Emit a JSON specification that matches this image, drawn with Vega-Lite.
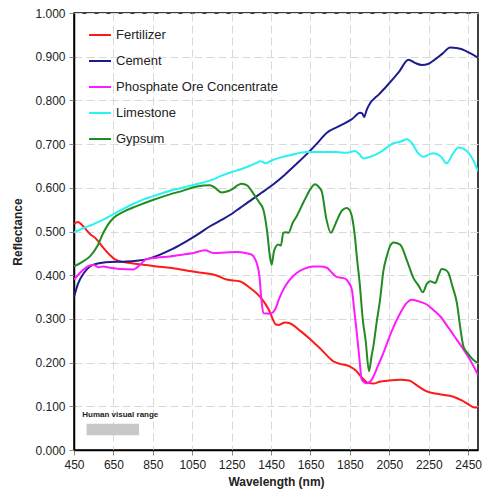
{
  "$schema": "https://vega.github.io/schema/vega-lite/v6.json",
  "width": 404,
  "height": 437,
  "autosize": {"type": "none"},
  "padding": {"left": 74, "top": 13, "right": 4, "bottom": 48},
  "background": "white",
  "config": {
    "font": "Liberation Sans",
    "view": {"stroke": "black", "strokeWidth": 1.5},
    "axis": {
      "labelFont": "Liberation Sans",
      "labelFontSize": 12,
      "labelColor": "#222222",
      "titleFont": "Liberation Sans",
      "titleFontSize": 12,
      "titleFontWeight": "bold",
      "titleColor": "#222222",
      "domainColor": "black",
      "domainWidth": 1.5,
      "tickColor": "#888888",
      "tickSize": 5,
      "gridColor": "#d9d9d9",
      "gridDash": [8, 4],
      "gridWidth": 1
    }
  },
  "layer": [
    {
      "data": {
        "values": [
          {"m":"Fertilizer","wl":450,"r":0.518},{"m":"Fertilizer","wl":470,"r":0.522},{"m":"Fertilizer","wl":500,"r":0.51},{"m":"Fertilizer","wl":530,"r":0.495},{"m":"Fertilizer","wl":565,"r":0.482},{"m":"Fertilizer","wl":600,"r":0.462},{"m":"Fertilizer","wl":630,"r":0.447},{"m":"Fertilizer","wl":658,"r":0.436},{"m":"Fertilizer","wl":700,"r":0.43},{"m":"Fertilizer","wl":750,"r":0.427},{"m":"Fertilizer","wl":802,"r":0.424},{"m":"Fertilizer","wl":870,"r":0.42},{"m":"Fertilizer","wl":937,"r":0.417},{"m":"Fertilizer","wl":1020,"r":0.411},{"m":"Fertilizer","wl":1106,"r":0.405},{"m":"Fertilizer","wl":1170,"r":0.4},{"m":"Fertilizer","wl":1225,"r":0.39},{"m":"Fertilizer","wl":1290,"r":0.386},{"m":"Fertilizer","wl":1343,"r":0.371},{"m":"Fertilizer","wl":1391,"r":0.352},{"m":"Fertilizer","wl":1420,"r":0.335},{"m":"Fertilizer","wl":1445,"r":0.315},{"m":"Fertilizer","wl":1460,"r":0.298},{"m":"Fertilizer","wl":1475,"r":0.287},{"m":"Fertilizer","wl":1490,"r":0.286},{"m":"Fertilizer","wl":1520,"r":0.292},{"m":"Fertilizer","wl":1545,"r":0.29},{"m":"Fertilizer","wl":1600,"r":0.272},{"m":"Fertilizer","wl":1650,"r":0.253},{"m":"Fertilizer","wl":1700,"r":0.232},{"m":"Fertilizer","wl":1766,"r":0.203},{"m":"Fertilizer","wl":1800,"r":0.197},{"m":"Fertilizer","wl":1851,"r":0.191},{"m":"Fertilizer","wl":1880,"r":0.182},{"m":"Fertilizer","wl":1910,"r":0.166},{"m":"Fertilizer","wl":1944,"r":0.153},{"m":"Fertilizer","wl":1970,"r":0.152},{"m":"Fertilizer","wl":2000,"r":0.156},{"m":"Fertilizer","wl":2050,"r":0.159},{"m":"Fertilizer","wl":2105,"r":0.161},{"m":"Fertilizer","wl":2150,"r":0.159},{"m":"Fertilizer","wl":2190,"r":0.148},{"m":"Fertilizer","wl":2240,"r":0.134},{"m":"Fertilizer","wl":2300,"r":0.128},{"m":"Fertilizer","wl":2375,"r":0.122},{"m":"Fertilizer","wl":2420,"r":0.113},{"m":"Fertilizer","wl":2450,"r":0.105},{"m":"Fertilizer","wl":2477,"r":0.098},{"m":"Fertilizer","wl":2500,"r":0.097},

          {"m":"Cement","wl":450,"r":0.35},{"m":"Cement","wl":470,"r":0.38},{"m":"Cement","wl":500,"r":0.405},{"m":"Cement","wl":531,"r":0.42},{"m":"Cement","wl":565,"r":0.426},{"m":"Cement","wl":633,"r":0.43},{"m":"Cement","wl":700,"r":0.431},{"m":"Cement","wl":768,"r":0.433},{"m":"Cement","wl":830,"r":0.438},{"m":"Cement","wl":887,"r":0.447},{"m":"Cement","wl":950,"r":0.46},{"m":"Cement","wl":1022,"r":0.478},{"m":"Cement","wl":1080,"r":0.494},{"m":"Cement","wl":1140,"r":0.512},{"m":"Cement","wl":1200,"r":0.527},{"m":"Cement","wl":1259,"r":0.543},{"m":"Cement","wl":1293,"r":0.554},{"m":"Cement","wl":1352,"r":0.573},{"m":"Cement","wl":1400,"r":0.588},{"m":"Cement","wl":1462,"r":0.608},{"m":"Cement","wl":1520,"r":0.63},{"m":"Cement","wl":1580,"r":0.655},{"m":"Cement","wl":1631,"r":0.677},{"m":"Cement","wl":1680,"r":0.7},{"m":"Cement","wl":1733,"r":0.726},{"m":"Cement","wl":1800,"r":0.742},{"m":"Cement","wl":1860,"r":0.757},{"m":"Cement","wl":1902,"r":0.772},{"m":"Cement","wl":1913,"r":0.77},{"m":"Cement","wl":1922,"r":0.762},{"m":"Cement","wl":1935,"r":0.778},{"m":"Cement","wl":1944,"r":0.787},{"m":"Cement","wl":2000,"r":0.815},{"m":"Cement","wl":2037,"r":0.833},{"m":"Cement","wl":2100,"r":0.866},{"m":"Cement","wl":2147,"r":0.893},{"m":"Cement","wl":2180,"r":0.886},{"m":"Cement","wl":2215,"r":0.881},{"m":"Cement","wl":2250,"r":0.884},{"m":"Cement","wl":2274,"r":0.891},{"m":"Cement","wl":2320,"r":0.907},{"m":"Cement","wl":2359,"r":0.921},{"m":"Cement","wl":2390,"r":0.92},{"m":"Cement","wl":2418,"r":0.917},{"m":"Cement","wl":2460,"r":0.908},{"m":"Cement","wl":2500,"r":0.898},

          {"m":"Phosphate Ore Concentrate","wl":450,"r":0.39},{"m":"Phosphate Ore Concentrate","wl":480,"r":0.405},{"m":"Phosphate Ore Concentrate","wl":520,"r":0.42},{"m":"Phosphate Ore Concentrate","wl":548,"r":0.424},{"m":"Phosphate Ore Concentrate","wl":575,"r":0.418},{"m":"Phosphate Ore Concentrate","wl":599,"r":0.42},{"m":"Phosphate Ore Concentrate","wl":633,"r":0.417},{"m":"Phosphate Ore Concentrate","wl":684,"r":0.414},{"m":"Phosphate Ore Concentrate","wl":751,"r":0.413},{"m":"Phosphate Ore Concentrate","wl":770,"r":0.418},{"m":"Phosphate Ore Concentrate","wl":785,"r":0.424},{"m":"Phosphate Ore Concentrate","wl":819,"r":0.437},{"m":"Phosphate Ore Concentrate","wl":870,"r":0.44},{"m":"Phosphate Ore Concentrate","wl":937,"r":0.443},{"m":"Phosphate Ore Concentrate","wl":1000,"r":0.447},{"m":"Phosphate Ore Concentrate","wl":1056,"r":0.451},{"m":"Phosphate Ore Concentrate","wl":1115,"r":0.457},{"m":"Phosphate Ore Concentrate","wl":1157,"r":0.451},{"m":"Phosphate Ore Concentrate","wl":1220,"r":0.452},{"m":"Phosphate Ore Concentrate","wl":1276,"r":0.453},{"m":"Phosphate Ore Concentrate","wl":1320,"r":0.451},{"m":"Phosphate Ore Concentrate","wl":1352,"r":0.447},{"m":"Phosphate Ore Concentrate","wl":1365,"r":0.44},{"m":"Phosphate Ore Concentrate","wl":1377,"r":0.428},{"m":"Phosphate Ore Concentrate","wl":1391,"r":0.397},{"m":"Phosphate Ore Concentrate","wl":1400,"r":0.35},{"m":"Phosphate Ore Concentrate","wl":1411,"r":0.313},{"m":"Phosphate Ore Concentrate","wl":1445,"r":0.312},{"m":"Phosphate Ore Concentrate","wl":1470,"r":0.321},{"m":"Phosphate Ore Concentrate","wl":1490,"r":0.345},{"m":"Phosphate Ore Concentrate","wl":1512,"r":0.367},{"m":"Phosphate Ore Concentrate","wl":1540,"r":0.387},{"m":"Phosphate Ore Concentrate","wl":1580,"r":0.405},{"m":"Phosphate Ore Concentrate","wl":1620,"r":0.415},{"m":"Phosphate Ore Concentrate","wl":1665,"r":0.42},{"m":"Phosphate Ore Concentrate","wl":1700,"r":0.42},{"m":"Phosphate Ore Concentrate","wl":1733,"r":0.417},{"m":"Phosphate Ore Concentrate","wl":1760,"r":0.405},{"m":"Phosphate Ore Concentrate","wl":1783,"r":0.396},{"m":"Phosphate Ore Concentrate","wl":1826,"r":0.392},{"m":"Phosphate Ore Concentrate","wl":1845,"r":0.382},{"m":"Phosphate Ore Concentrate","wl":1860,"r":0.367},{"m":"Phosphate Ore Concentrate","wl":1872,"r":0.32},{"m":"Phosphate Ore Concentrate","wl":1885,"r":0.268},{"m":"Phosphate Ore Concentrate","wl":1898,"r":0.21},{"m":"Phosphate Ore Concentrate","wl":1910,"r":0.161},{"m":"Phosphate Ore Concentrate","wl":1936,"r":0.153},{"m":"Phosphate Ore Concentrate","wl":1961,"r":0.161},{"m":"Phosphate Ore Concentrate","wl":1990,"r":0.19},{"m":"Phosphate Ore Concentrate","wl":2020,"r":0.222},{"m":"Phosphate Ore Concentrate","wl":2060,"r":0.27},{"m":"Phosphate Ore Concentrate","wl":2105,"r":0.313},{"m":"Phosphate Ore Concentrate","wl":2135,"r":0.335},{"m":"Phosphate Ore Concentrate","wl":2164,"r":0.344},{"m":"Phosphate Ore Concentrate","wl":2200,"r":0.34},{"m":"Phosphate Ore Concentrate","wl":2240,"r":0.333},{"m":"Phosphate Ore Concentrate","wl":2275,"r":0.32},{"m":"Phosphate Ore Concentrate","wl":2308,"r":0.306},{"m":"Phosphate Ore Concentrate","wl":2350,"r":0.28},{"m":"Phosphate Ore Concentrate","wl":2393,"r":0.252},{"m":"Phosphate Ore Concentrate","wl":2430,"r":0.228},{"m":"Phosphate Ore Concentrate","wl":2460,"r":0.206},{"m":"Phosphate Ore Concentrate","wl":2500,"r":0.172},

          {"m":"Limestone","wl":450,"r":0.498},{"m":"Limestone","wl":500,"r":0.508},{"m":"Limestone","wl":550,"r":0.517},{"m":"Limestone","wl":599,"r":0.527},{"m":"Limestone","wl":650,"r":0.54},{"m":"Limestone","wl":700,"r":0.552},{"m":"Limestone","wl":750,"r":0.563},{"m":"Limestone","wl":800,"r":0.573},{"m":"Limestone","wl":853,"r":0.581},{"m":"Limestone","wl":900,"r":0.588},{"m":"Limestone","wl":950,"r":0.595},{"m":"Limestone","wl":1000,"r":0.6},{"m":"Limestone","wl":1050,"r":0.606},{"m":"Limestone","wl":1106,"r":0.612},{"m":"Limestone","wl":1150,"r":0.618},{"m":"Limestone","wl":1200,"r":0.628},{"m":"Limestone","wl":1250,"r":0.636},{"m":"Limestone","wl":1293,"r":0.642},{"m":"Limestone","wl":1340,"r":0.65},{"m":"Limestone","wl":1377,"r":0.657},{"m":"Limestone","wl":1394,"r":0.661},{"m":"Limestone","wl":1405,"r":0.66},{"m":"Limestone","wl":1420,"r":0.656},{"m":"Limestone","wl":1450,"r":0.662},{"m":"Limestone","wl":1496,"r":0.669},{"m":"Limestone","wl":1550,"r":0.675},{"m":"Limestone","wl":1631,"r":0.682},{"m":"Limestone","wl":1700,"r":0.682},{"m":"Limestone","wl":1783,"r":0.682},{"m":"Limestone","wl":1830,"r":0.68},{"m":"Limestone","wl":1876,"r":0.684},{"m":"Limestone","wl":1900,"r":0.676},{"m":"Limestone","wl":1919,"r":0.667},{"m":"Limestone","wl":1960,"r":0.672},{"m":"Limestone","wl":2003,"r":0.681},{"m":"Limestone","wl":2040,"r":0.693},{"m":"Limestone","wl":2071,"r":0.702},{"m":"Limestone","wl":2110,"r":0.706},{"m":"Limestone","wl":2139,"r":0.711},{"m":"Limestone","wl":2165,"r":0.702},{"m":"Limestone","wl":2195,"r":0.68},{"m":"Limestone","wl":2223,"r":0.671},{"m":"Limestone","wl":2250,"r":0.676},{"m":"Limestone","wl":2274,"r":0.679},{"m":"Limestone","wl":2310,"r":0.672},{"m":"Limestone","wl":2342,"r":0.656},{"m":"Limestone","wl":2370,"r":0.676},{"m":"Limestone","wl":2401,"r":0.692},{"m":"Limestone","wl":2443,"r":0.684},{"m":"Limestone","wl":2470,"r":0.668},{"m":"Limestone","wl":2500,"r":0.638},

          {"m":"Gypsum","wl":450,"r":0.42},{"m":"Gypsum","wl":490,"r":0.43},{"m":"Gypsum","wl":531,"r":0.443},{"m":"Gypsum","wl":570,"r":0.468},{"m":"Gypsum","wl":599,"r":0.497},{"m":"Gypsum","wl":620,"r":0.514},{"m":"Gypsum","wl":650,"r":0.531},{"m":"Gypsum","wl":700,"r":0.545},{"m":"Gypsum","wl":768,"r":0.558},{"m":"Gypsum","wl":850,"r":0.572},{"m":"Gypsum","wl":937,"r":0.585},{"m":"Gypsum","wl":1000,"r":0.593},{"m":"Gypsum","wl":1073,"r":0.603},{"m":"Gypsum","wl":1140,"r":0.606},{"m":"Gypsum","wl":1166,"r":0.6},{"m":"Gypsum","wl":1200,"r":0.589},{"m":"Gypsum","wl":1242,"r":0.594},{"m":"Gypsum","wl":1301,"r":0.609},{"m":"Gypsum","wl":1330,"r":0.605},{"m":"Gypsum","wl":1343,"r":0.598},{"m":"Gypsum","wl":1370,"r":0.58},{"m":"Gypsum","wl":1391,"r":0.566},{"m":"Gypsum","wl":1411,"r":0.55},{"m":"Gypsum","wl":1430,"r":0.5},{"m":"Gypsum","wl":1445,"r":0.44},{"m":"Gypsum","wl":1453,"r":0.424},{"m":"Gypsum","wl":1465,"r":0.455},{"m":"Gypsum","wl":1487,"r":0.47},{"m":"Gypsum","wl":1500,"r":0.468},{"m":"Gypsum","wl":1512,"r":0.497},{"m":"Gypsum","wl":1525,"r":0.498},{"m":"Gypsum","wl":1538,"r":0.497},{"m":"Gypsum","wl":1560,"r":0.52},{"m":"Gypsum","wl":1580,"r":0.535},{"m":"Gypsum","wl":1620,"r":0.572},{"m":"Gypsum","wl":1650,"r":0.597},{"m":"Gypsum","wl":1673,"r":0.608},{"m":"Gypsum","wl":1690,"r":0.603},{"m":"Gypsum","wl":1707,"r":0.592},{"m":"Gypsum","wl":1730,"r":0.53},{"m":"Gypsum","wl":1753,"r":0.497},{"m":"Gypsum","wl":1770,"r":0.51},{"m":"Gypsum","wl":1783,"r":0.524},{"m":"Gypsum","wl":1810,"r":0.548},{"m":"Gypsum","wl":1834,"r":0.554},{"m":"Gypsum","wl":1850,"r":0.548},{"m":"Gypsum","wl":1860,"r":0.535},{"m":"Gypsum","wl":1875,"r":0.49},{"m":"Gypsum","wl":1885,"r":0.443},{"m":"Gypsum","wl":1900,"r":0.38},{"m":"Gypsum","wl":1915,"r":0.3},{"m":"Gypsum","wl":1930,"r":0.25},{"m":"Gypsum","wl":1947,"r":0.18},{"m":"Gypsum","wl":1960,"r":0.215},{"m":"Gypsum","wl":1969,"r":0.237},{"m":"Gypsum","wl":1985,"r":0.29},{"m":"Gypsum","wl":2003,"r":0.344},{"m":"Gypsum","wl":2020,"r":0.41},{"m":"Gypsum","wl":2037,"r":0.443},{"m":"Gypsum","wl":2055,"r":0.468},{"m":"Gypsum","wl":2071,"r":0.475},{"m":"Gypsum","wl":2105,"r":0.47},{"m":"Gypsum","wl":2140,"r":0.433},{"m":"Gypsum","wl":2172,"r":0.394},{"m":"Gypsum","wl":2200,"r":0.375},{"m":"Gypsum","wl":2220,"r":0.361},{"m":"Gypsum","wl":2240,"r":0.38},{"m":"Gypsum","wl":2257,"r":0.386},{"m":"Gypsum","wl":2283,"r":0.382},{"m":"Gypsum","wl":2300,"r":0.4},{"m":"Gypsum","wl":2316,"r":0.414},{"m":"Gypsum","wl":2335,"r":0.412},{"m":"Gypsum","wl":2350,"r":0.405},{"m":"Gypsum","wl":2370,"r":0.375},{"m":"Gypsum","wl":2393,"r":0.336},{"m":"Gypsum","wl":2410,"r":0.28},{"m":"Gypsum","wl":2426,"r":0.237},{"m":"Gypsum","wl":2450,"r":0.22},{"m":"Gypsum","wl":2477,"r":0.206},{"m":"Gypsum","wl":2500,"r":0.199}
        ]
      },
      "mark": {"type": "line", "strokeWidth": 2, "interpolate": "monotone", "clip": true},
      "encoding": {
        "x": {
          "field": "wl", "type": "quantitative",
          "scale": {"domain": [450, 2500], "nice": false, "zero": false},
          "axis": {"values": [450, 650, 850, 1050, 1250, 1450, 1650, 1850, 2050, 2250, 2450], "format": "d", "title": "Wavelength (nm)", "titlePadding": 6, "labelPadding": 4, "labelFlush": false}
        },
        "y": {
          "field": "r", "type": "quantitative",
          "scale": {"domain": [0, 1], "nice": false},
          "axis": {"values": [0, 0.1, 0.2, 0.3, 0.4, 0.5, 0.6, 0.7, 0.8, 0.9, 1.0], "format": ".3f", "title": "Reflectance", "titlePadding": 10, "labelPadding": 4, "labelFlush": false}
        },
        "color": {
          "field": "m", "type": "nominal",
          "scale": {
            "domain": ["Fertilizer", "Cement", "Phosphate Ore Concentrate", "Limestone", "Gypsum"],
            "range": ["#ff1a1a", "#1c1c8c", "#ff1aff", "#2af2f2", "#228b22"]
          },
          "legend": {
            "title": null, "orient": "none", "legendX": 14, "legendY": 10,
            "symbolType": "stroke", "symbolSize": 484, "symbolStrokeWidth": 2,
            "labelFontSize": 13, "labelFont": "Liberation Sans", "labelColor": "#222222", "labelLimit": 0,
            "rowPadding": 7, "padding": 0, "labelOffset": 4
          }
        }
      }
    },
    {
      "data": {"values": [{"a": 514, "b": 780, "lo": 0.034, "hi": 0.06}]},
      "mark": {"type": "rect", "color": "#c8c8c8"},
      "encoding": {
        "x": {"field": "a", "type": "quantitative"},
        "x2": {"field": "b"},
        "y": {"field": "lo", "type": "quantitative"},
        "y2": {"field": "hi"}
      }
    },
    {
      "data": {"values": [{"wl": 492, "r": 0.079, "t": "Human visual range"}]},
      "mark": {"type": "text", "align": "left", "baseline": "middle", "fontSize": 8, "fontWeight": "bold", "font": "Liberation Sans", "color": "#222222"},
      "encoding": {
        "x": {"field": "wl", "type": "quantitative"},
        "y": {"field": "r", "type": "quantitative"},
        "text": {"field": "t"}
      }
    }
  ]
}
